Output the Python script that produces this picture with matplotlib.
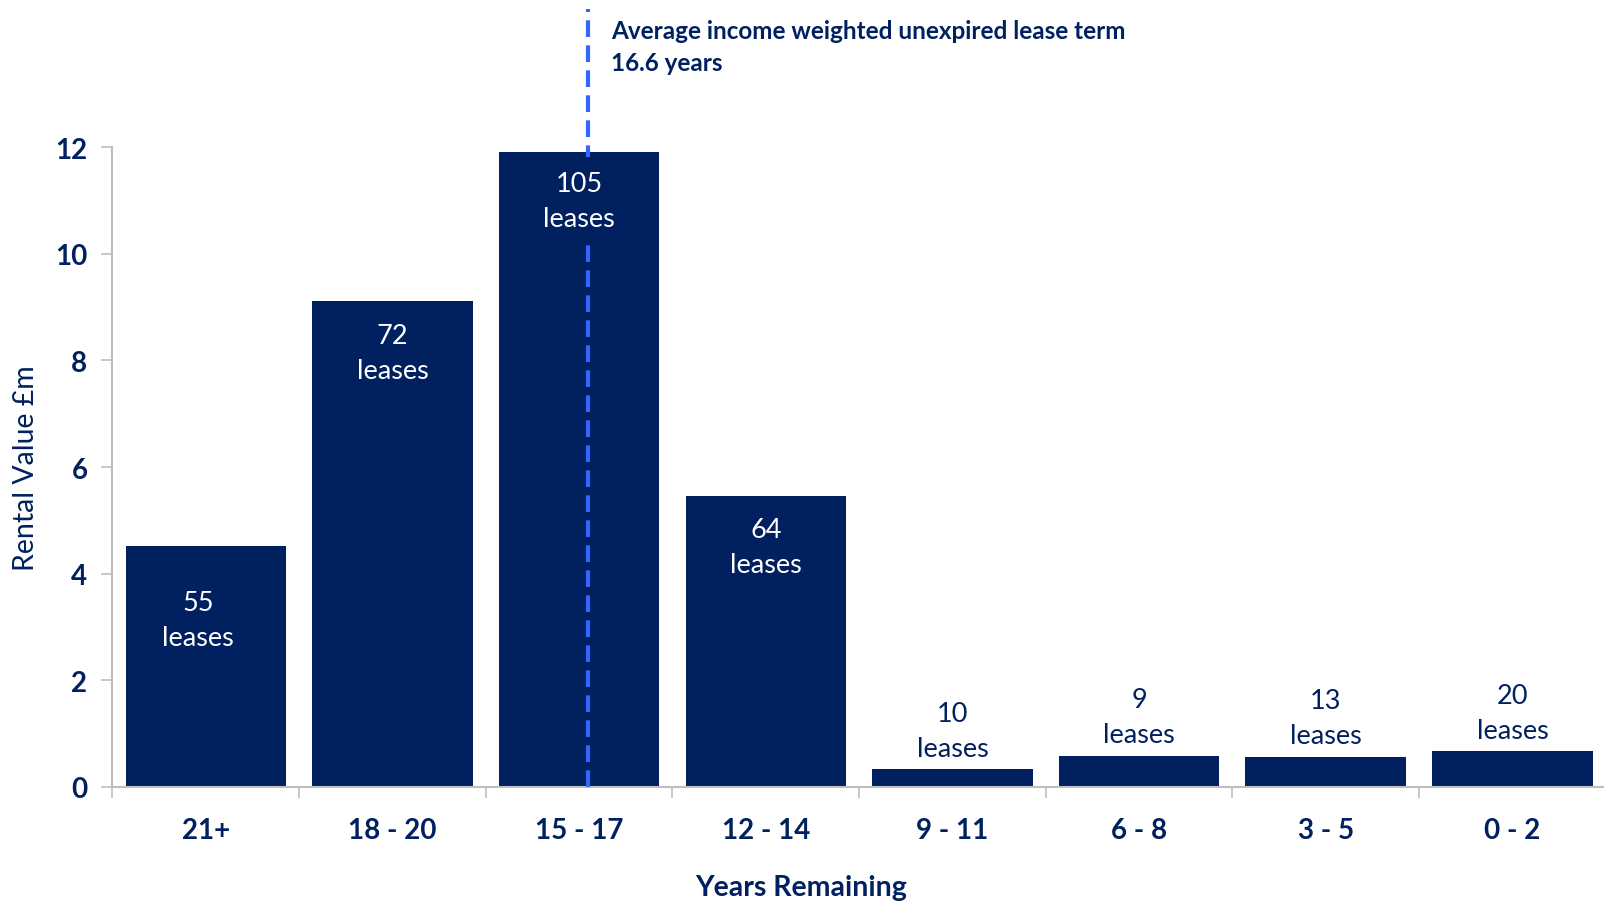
import matplotlib
matplotlib.use("Agg")
import matplotlib.pyplot as plt

plt.rcParams['font.family'] = ['Lato', 'DejaVu Sans']

# Rental value by years remaining on the lease
categories = ["21+", "18 - 20", "15 - 17", "12 - 14", "9 - 11", "6 - 8", "3 - 5", "0 - 2"]
rental_value = [4.52, 9.12, 11.92, 5.45, 0.33, 0.58, 0.56, 0.67]
lease_counts = [55, 72, 105, 64, 10, 9, 13, 20]
avg_term_position = 2.05  # 16.6 years sits inside the 15 - 17 band
avg_term_label = "Average income weighted unexpired lease term\n16.6 years"

NAVY = "#002060"
LINE_BLUE = "#3366FF"
AXIS_GREY = "#BFBFBF"

fig = plt.figure(figsize=(16.04, 9.04), dpi=100)
ax = fig.add_axes([0.0701, 0.1286, 0.9310, 0.7073])

x = list(range(len(categories)))
bars = ax.bar(x, rental_value, width=0.86, color=NAVY, zorder=2)

ax.set_xlim(-0.5, len(categories) - 0.5)
ax.set_ylim(0, 12)
ax.set_yticks(range(0, 13, 2))
ax.set_yticklabels([str(v) for v in range(0, 13, 2)], fontsize=20, fontweight='bold', color=NAVY)

# category labels centred, tick marks between categories
ax.set_xticks(x)
ax.set_xticklabels(categories, fontsize=20, fontweight='bold', color=NAVY)
ax.tick_params(axis='x', length=0, pad=22)
ax.set_xticks([i - 0.5 for i in range(len(categories) + 1)], minor=True)
ax.tick_params(axis='x', which='minor', length=8, color=AXIS_GREY, width=1.2)
ax.tick_params(axis='y', length=8, color=AXIS_GREY, width=1.2, pad=10)

for side in ('top', 'right'):
    ax.spines[side].set_visible(False)
for side in ('left', 'bottom'):
    ax.spines[side].set_color(AXIS_GREY)
    ax.spines[side].set_linewidth(1.5)

# average lease term marker running above the plot area
ax.plot([avg_term_position, avg_term_position], [0, 14.6], color=LINE_BLUE,
        linestyle=(0, (4, 2)), linewidth=3, clip_on=False, zorder=3)
ax.text(avg_term_position + 0.12, 14.4, avg_term_label, fontsize=17.5, fontweight='bold',
        color=NAVY, ha='left', va='top', linespacing=1.45, clip_on=False)

# lease count labels: inside tall bars, above short bars
inside_offset = {0: 0.82, 1: 0.42, 2: 0.36, 3: 0.38}
for i, (v, n) in enumerate(zip(rental_value, lease_counts)):
    label = f"{n}\nleases"
    if v > 2:
        ax.text(i - 0.04 if i == 0 else i, v - inside_offset[i], label, ha='center', va='top',
                fontsize=19.5, color='white', linespacing=1.5, zorder=4,
                bbox=dict(boxstyle='square,pad=0.5', facecolor=NAVY, edgecolor='none'))
    else:
        ax.text(i, v + 0.16, label, ha='center', va='bottom', fontsize=19.5,
                color=NAVY, linespacing=1.5, zorder=4)

fig.text(25.6 / 1604, 1 - 468.5 / 904, "Rental Value £m", rotation=90, fontsize=20.5,
         color=NAVY, ha='center', va='center')
fig.text(801 / 1604, 1 - 888 / 904, "Years Remaining", fontsize=20.5, fontweight='bold',
         color=NAVY, ha='center', va='center')

fig.savefig("out.png", dpi=100, facecolor='white')
